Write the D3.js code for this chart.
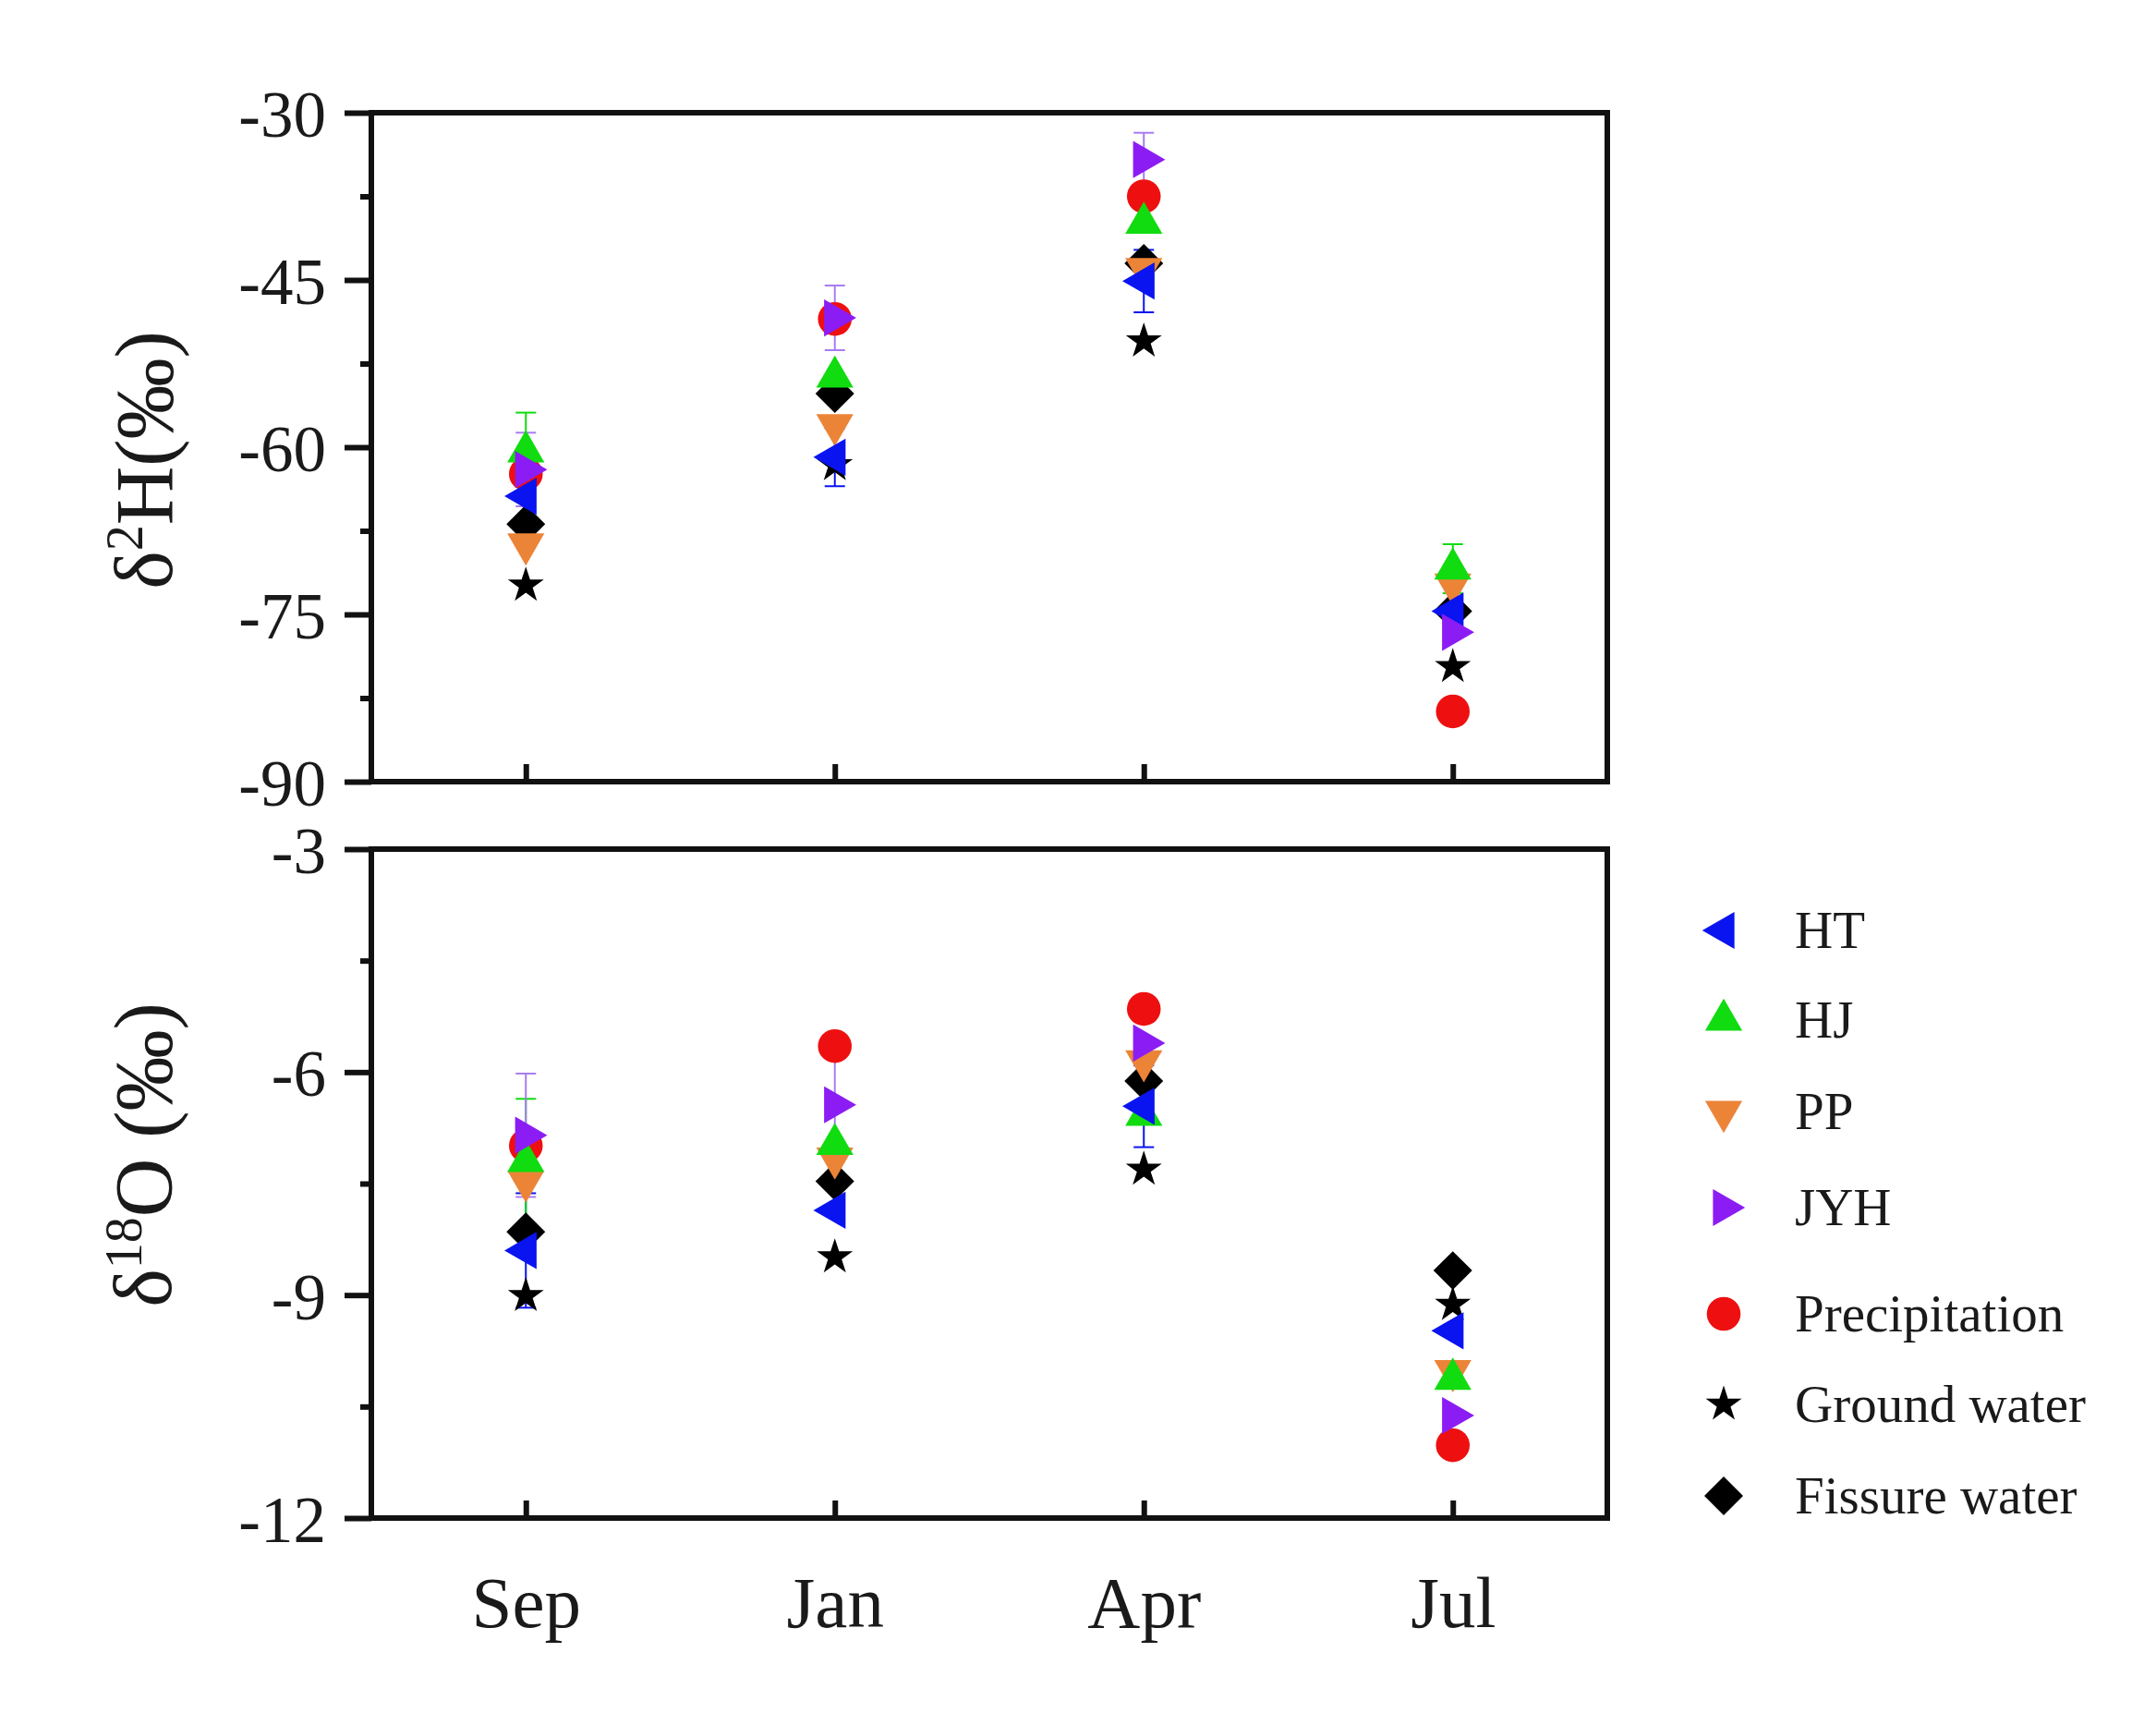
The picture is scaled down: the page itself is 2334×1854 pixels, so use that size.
<!DOCTYPE html>
<html>
<head>
<meta charset="utf-8">
<script src="https://cdn.jsdelivr.net/npm/d3@7"></script>
<style>
  body { margin: 0; background: #fff; }
  text { font-family: "Liberation Serif", "Times New Roman", serif; fill: #1a1a1a; }
</style>
</head>
<body>
<svg id="chart" width="2334" height="1854"></svg>
<script>
const months = ["Sep", "Jan", "Apr", "Jul"]
const seriesNames = ["HT", "HJ", "PP", "JYH", "Precipitation", "Ground water", "Fissure water"]
const seriesColors = ["#0a14f0", "#10dc10", "#ec8438", "#8c1cf4", "#ee1010", "#000000", "#000000"]
const hTicks = [-30, -45, -60, -75, -90]
const hMinor = [-37.5, -52.5, -67.5, -82.5]
const oTicks = [-3, -6, -9, -12]
const oMinor = [-4.5, -7.5, -10.5]

// δ2H values, Sep Jan Apr Jul
const h2_HT = [-64.4, -60.9, -45.1, -74.7]
const h2_HJ = [-60.4, -53.7, -39.9, -70.9]
const h2_PP = [-68.7, -58.0, -44.0, -72.3]
const h2_JYH = [-62.0, -48.4, -34.2, -76.6]
const h2_Pre = [-62.4, -48.5, -37.5, -83.7]
const h2_GW = [-72.4, -61.6, -50.5, -79.7]
const h2_FW = [-66.9, -55.2, -43.5, -74.7]

// δ2H error bars
const h2e_HT = [0, 2.6, 2.8, 0]
const h2e_HJ = [3.5, 0, 0, 2.2]
const h2e_JYH = [3.3, 2.9, 2.4, 0]

// δ18O values
const o18_HT = [-8.40, -7.86, -6.46, -9.48]
const o18_HJ = [-7.20, -6.97, -6.58, -10.13]
const o18_PP = [-7.47, -7.16, -5.85, -10.02]
const o18_JYH = [-6.85, -6.44, -5.61, -10.62]
const o18_Pre = [-6.99, -5.65, -5.15, -11.02]
const o18_GW = [-9.01, -8.49, -7.31, -9.13]
const o18_FW = [-8.15, -7.47, -6.12, -8.67]

// δ18O error bars
const o18e_HT = [0.77, 0, 0.55, 0]
const o18e_HJ = [0.84, 0, 0, 0]
const o18e_JYH = [0.83, 0.75, 0, 0]

const hValues = [h2_HT, h2_HJ, h2_PP, h2_JYH, h2_Pre, h2_GW, h2_FW]
const oValues = [o18_HT, o18_HJ, o18_PP, o18_JYH, o18_Pre, o18_GW, o18_FW]
const hErrors = [h2e_HT, h2e_HJ, null, h2e_JYH, null, null, null]
const oErrors = [o18e_HT, o18e_HJ, null, o18e_JYH, null, null, null]

// symbol for each series: type, size, rotation
const symbols = [
  {type: d3.symbolTriangle, size: 700, rot: -90},
  {type: d3.symbolTriangle, size: 700, rot: 0},
  {type: d3.symbolTriangle, size: 700, rot: 180},
  {type: d3.symbolTriangle, size: 700, rot: 90},
  {type: d3.symbolCircle, size: 1050, rot: 0},
  {type: d3.symbolStar, size: 470, rot: 0},
  {type: d3.symbolSquare, size: 880, rot: 45}
]
const drawOrder = [5, 6, 4, 2, 1, 0, 3]

const svg = d3.select('#chart')
const left = 402, right = 1740

const x = d3.scalePoint().domain(months).range([left, right]).padding(0.5)

const panels = [
  {y: d3.scaleLinear().domain([-90, -30]).range([846, 122]), ticks: hTicks, minor: hMinor,
   values: hValues, errors: hErrors, labels: false},
  {y: d3.scaleLinear().domain([-12, -3]).range([1643, 919]), ticks: oTicks, minor: oMinor,
   values: oValues, errors: oErrors, labels: true}
]

panels.forEach(p => {
  const top = p.y.range()[1], bottom = p.y.range()[0]
  const g = svg.append('g')

  // y axis
  const ya = g.append('g').attr('transform', `translate(${left},0)`)
    .call(d3.axisLeft(p.y).tickValues(p.ticks).tickSize(29).tickPadding(20).tickFormat(d => String(d)))
  ya.select('.domain').remove()
  ya.selectAll('line').attr('stroke', '#111').attr('stroke-width', 6)
  ya.selectAll('text').attr('font-size', 71).attr('fill', '#1a1a1a')
    .attr('font-family', '"Liberation Serif", serif').attr('dy', '0.36em')

  const ym = g.append('g').attr('transform', `translate(${left},0)`)
    .call(d3.axisLeft(p.y).tickValues(p.minor).tickSize(12).tickFormat(''))
  ym.select('.domain').remove()
  ym.selectAll('line').attr('stroke', '#111').attr('stroke-width', 6)

  // x axis, ticks pointing inward
  const xa = g.append('g').attr('transform', `translate(0,${bottom})`)
    .call(d3.axisBottom(x).tickSize(-19).tickPadding(62).tickFormat(p.labels ? (d => d) : ''))
  xa.select('.domain').remove()
  xa.selectAll('line').attr('stroke', '#111').attr('stroke-width', 6)
  xa.selectAll('text').attr('font-size', 79).attr('fill', '#1a1a1a')
    .attr('font-family', '"Liberation Serif", serif')

  // frame
  g.append('rect')
    .attr('x', left).attr('y', top)
    .attr('width', right - left).attr('height', bottom - top)
    .attr('fill', 'none').attr('stroke', '#111').attr('stroke-width', 6)

  // error bars
  p.errors.forEach((errs, si) => {
    if (!errs) return
    errs.forEach((e, mi) => {
      if (!e) return
      const v = p.values[si][mi]
      const cx = x(months[mi])
      const col = si === 3 ? '#a87cf0' : seriesColors[si]
      g.append('line').attr('x1', cx).attr('x2', cx)
        .attr('y1', p.y(v - e)).attr('y2', p.y(v + e))
        .attr('stroke', col).attr('stroke-width', 2)
      ;[v - e, v + e].forEach(c => {
        g.append('line').attr('x1', cx - 11).attr('x2', cx + 11)
          .attr('y1', p.y(c)).attr('y2', p.y(c))
          .attr('stroke', col).attr('stroke-width', 2)
      })
    })
  })

  // markers
  drawOrder.forEach(si => {
    const s = symbols[si]
    g.append('g').selectAll('path')
      .data(p.values[si])
      .enter()
      .append('path')
      .attr('d', d3.symbol().type(s.type).size(s.size))
      .attr('transform', (d, i) => `translate(${x(months[i])},${p.y(d)}) rotate(${s.rot})`)
      .attr('fill', seriesColors[si])
  })
})

// axis titles
const t1 = svg.append('text')
  .attr('transform', 'translate(186,498) rotate(-90)')
  .attr('text-anchor', 'middle')
  .attr('font-size', 88)
t1.append('tspan').text('δ')
t1.append('tspan').text('2').attr('font-size', 56).attr('dy', -32)
t1.append('tspan').text('H(‰)').attr('dy', 32)

const t2 = svg.append('text')
  .attr('transform', 'translate(185,1250) rotate(-90)')
  .attr('text-anchor', 'middle')
  .attr('font-size', 88)
t2.append('tspan').text('δ')
t2.append('tspan').text('18').attr('font-size', 56).attr('dy', -32)
t2.append('tspan').text('O (‰)').attr('dy', 32)

// legend
const legendY = [1007, 1104, 1203, 1307, 1422, 1520, 1619]
const legend = svg.append('g')
seriesNames.forEach((name, i) => {
  const s = symbols[i]
  legend.append('path')
    .attr('d', d3.symbol().type(s.type).size(s.size))
    .attr('transform', `translate(1866,${legendY[i]}) rotate(${s.rot})`)
    .attr('fill', seriesColors[i])
  legend.append('text')
    .text(name)
    .attr('x', 1943)
    .attr('y', legendY[i] + 19)
    .attr('font-size', 57)
})
</script>
</body>
</html>
